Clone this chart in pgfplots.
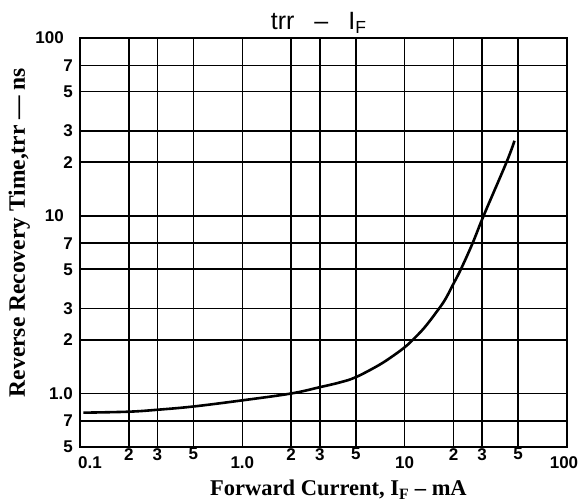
\documentclass[border=0pt]{standalone}
\usepackage{fontspec}
\setmainfont{Liberation Serif}
\newfontfamily\ticksans{Liberation Sans}
\usepackage{pgfplots}
\pgfplotsset{compat=1.18}
\begin{document}
\begin{tikzpicture}
\path[use as bounding box] (-80pt,-55pt) rectangle (499pt,447pt);
\begin{axis}[
  at={(0,0)}, anchor=south west,
  width=487pt, height=409pt, scale only axis,
  xmode=log, ymode=log,
  xmin=0.1, xmax=100, ymin=0.5, ymax=100,
  xtick={0.2,0.3,0.5,2,3,5,20,30,50},
  xticklabels={2,3,5,2,3,5,2,3,5},
  extra x ticks={0.1,1,10,100},
  extra x tick labels={\hspace*{20pt}0.1,1.0,10,100\hspace*{6pt}},
  extra x tick style={xticklabel style={yshift=-8pt}},
  ytick={0.5,0.7,1,2,3,5,7,20,30,50,70},
  yticklabels={5,7,1.0,2,3,5,7,2,3,5,7},
  extra y ticks={10,100},
  extra y tick labels={10,100},
  extra y tick style={yticklabel style={xshift=-9pt}},
  grid=major,
  major grid style={black, line width=1.6pt},
  axis line style={black, line width=1.8pt},
  major tick length=0pt,
  xminorticks=false, yminorticks=false,
  xticklabel style={font=\ticksans\bfseries\fontsize{17}{17}\selectfont, anchor=north, inner sep=0pt, yshift=-1pt},
  yticklabel style={font=\ticksans\bfseries\fontsize{17}{17}\selectfont, anchor=east, inner sep=0pt, xshift=-7pt},
  title={trr\hspace{20pt}\textendash\hspace{20pt}I\textsubscript{F}},
  title style={font=\ticksans\fontsize{25}{25}\selectfont, at={(axis description cs:0.49,1)}, anchor=base, yshift=2pt},
  xlabel={Forward Current, I\textsubscript{F} -- mA},
  xlabel style={font=\bfseries\fontsize{22.5}{22.5}\selectfont, at={(axis description cs:0.5308,-0.1198)}, anchor=base},
  ylabel={Reverse Recovery Time,trr --- ns},
  ylabel style={font=\bfseries\fontsize{23.5}{23.5}\selectfont, at={(axis description cs:-0.113,0.5244)}, anchor=base},
]
\addplot[black, line width=2.6pt, smooth, tension=0.6] coordinates {
(0.105,0.78) (0.2,0.79) (0.3,0.81) (0.5,0.845) (1,0.915) (2,1.0) (3,1.085)
(4,1.155) (5,1.235) (6.9,1.44) (8.5,1.63) (10,1.82) (11.2,2.0) (13.2,2.34)
(15.6,2.85) (17.7,3.36) (20,4.15) (22.2,5) (26.2,7) (30.65,10) (42.4,20) (47.5,26.4)
};
\end{axis}
\end{tikzpicture}
\end{document}
